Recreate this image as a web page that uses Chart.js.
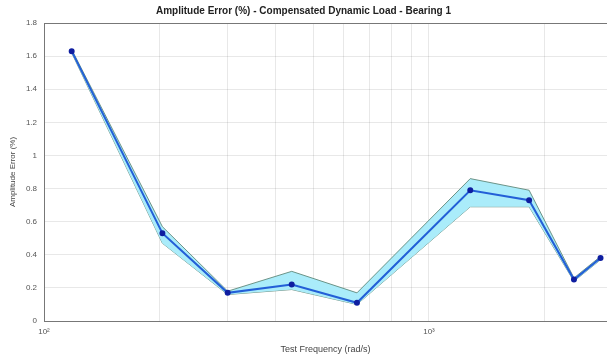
<!DOCTYPE html>
<html>
<head>
<meta charset="utf-8">
<script src="https://cdn.jsdelivr.net/npm/chart.js@4"></script>
<style>
  html, body { margin: 0; padding: 0; background: #fff; }
  #wrap { width: 607px; height: 358px; }
</style>
</head>
<body>
<div id="wrap"><canvas id="chart"></canvas></div>
<script>
// valores
const freq = [118, 203, 300, 440, 650, 1280, 1820, 2380, 2790];
const ampError = [1.63, 0.53, 0.17, 0.22, 0.11, 0.79, 0.73, 0.25, 0.38];
const upperBand = [1.64, 0.57, 0.18, 0.30, 0.17, 0.86, 0.79, 0.26, 0.39];
const lowerBand = [1.62, 0.47, 0.16, 0.19, 0.10, 0.69, 0.69, 0.24, 0.37];
const xTicks = [100, 200, 300, 400, 500, 600, 700, 800, 900, 1000, 2000];
const xLabels = { 100: '10\u00B2', 1000: '10\u00B3' };

function pts(ys) {
    let out = [];
    for (let i = 0; i < freq.length; i++) {
        out.push({ x: freq[i], y: ys[i] });
    }
    return out;
}

const fontName = "'Liberation Sans', Arial, sans-serif";
Chart.defaults.font.family = fontName;

var ctx = document.getElementById('chart').getContext('2d');
var chart = new Chart(ctx, {
    type: 'line',
    data: {
        datasets: [
            {
                label: 'lower',
                data: pts(lowerBand),
                borderColor: 'rgba(90,130,115,0.85)',
                borderWidth: 1,
                pointRadius: 0,
                fill: false,
                order: 2
            },
            {
                label: 'upper',
                data: pts(upperBand),
                borderColor: 'rgba(90,130,115,0.85)',
                borderWidth: 1,
                pointRadius: 0,
                backgroundColor: 'rgb(170,236,250)',
                fill: '-1',
                order: 1
            },
            {
                // linea principal encima de la banda
                label: 'error',
                data: pts(ampError),
                borderColor: 'rgb(35,95,215)',
                borderWidth: 2,
                pointRadius: 2,
                pointBackgroundColor: 'rgb(15,30,160)',
                pointBorderColor: 'rgb(15,30,160)',
                fill: false,
                order: 0
            }
        ]
    },
    options: {
        responsive: true,
        maintainAspectRatio: false,
        animation: false,
        layout: { padding: 0, autoPadding: false },
        plugins: {
            legend: { display: false },
            tooltip: { enabled: false },
            title: {
                display: true,
                text: 'Amplitude Error (%) - Compensated Dynamic Load - Bearing 1',
                color: '#222',
                font: { size: 10, weight: 'bold' },
                padding: { top: 5, bottom: 6 }
            }
        },
        scales: {
            x: {
                type: 'logarithmic',
                min: 100,
                max: 2900,
                afterBuildTicks: (s) => { s.ticks = xTicks.map(v => ({ value: v })); },
                afterFit: (s) => { s.height = 37; },
                ticks: {
                    autoSkip: false,
                    maxRotation: 0,
                    color: '#555',
                    font: { size: 8 },
                    padding: 6,
                    callback: (v) => xLabels[v] || ''
                },
                grid: { color: 'rgba(0,0,0,0.09)', drawTicks: false },
                border: { color: '#777' },
                title: {
                    display: true,
                    text: 'Test Frequency (rad/s)',
                    color: '#444',
                    font: { size: 9 },
                    padding: { top: 0, bottom: 3 }
                }
            },
            y: {
                min: 0,
                max: 1.8,
                afterFit: (s) => { s.width = 44; },
                ticks: {
                    stepSize: 0.2,
                    color: '#555',
                    font: { size: 8 },
                    padding: 7,
                    callback: (v) => String(Math.round(v * 10) / 10)
                },
                grid: {
                    color: (c) => c.tick && c.tick.value >= 1.79 ? '#777' : 'rgba(0,0,0,0.09)',
                    drawTicks: false
                },
                border: { color: '#777' },
                title: {
                    display: true,
                    text: 'Amplitude Error (%)',
                    color: '#444',
                    font: { size: 8 },
                    padding: { top: 8, bottom: 0 }
                }
            }
        }
    }
});
</script>
</body>
</html>
